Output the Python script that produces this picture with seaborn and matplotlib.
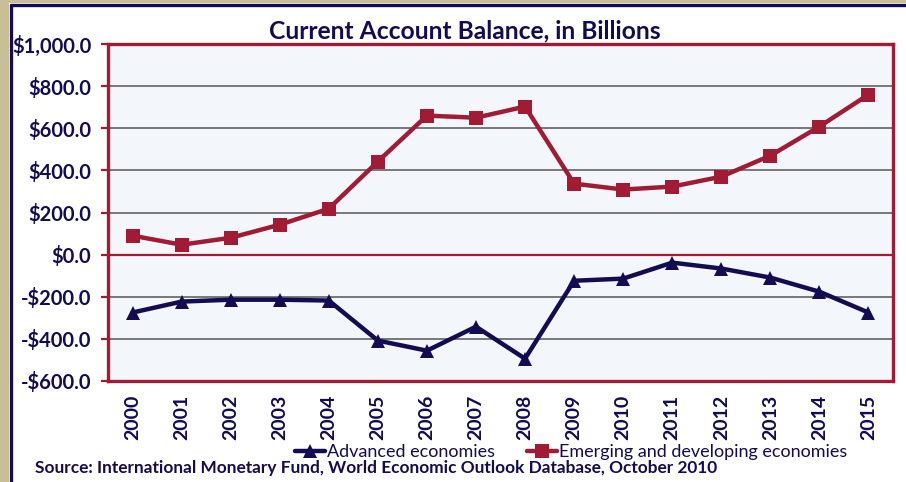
import matplotlib
matplotlib.use("Agg")
import matplotlib.pyplot as plt
from matplotlib.patches import Rectangle
from matplotlib.lines import Line2D
import seaborn as sns
import pandas as pd

years = list(range(2000, 2016))
advanced = [-275, -223, -214, -214, -218, -408, -456, -342, -494,
            -124, -114, -38, -66, -109, -176, -275]
emerging = [90, 47, 80, 142, 218, 442, 660, 650, 703,
            337, 309, 323, 370, 470, 608, 760]
y_ticks = [-600, -400, -200, 0, 200, 400, 600, 800, 1000]
y_tick_labels = ["-$600.0", "-$400.0", "-$200.0", "$0.0", "$200.0",
                 "$400.0", "$600.0", "$800.0", "$1,000.0"]
series_names = ["Advanced economies", "Emerging and developing economies"]

NAVY = "#120c52"
RED = "#a11b35"
TAN = "#c8bf96"

sns.set_theme(style="white")
plt.rcParams["font.family"] = ["Lato", "DejaVu Sans"]

df = pd.DataFrame({
    "year": years * 2,
    "value": advanced + emerging,
    "series": [series_names[0]] * len(years) + [series_names[1]] * len(years),
})

W, H = 906, 482
fig = plt.figure(figsize=(W / 100, H / 100), dpi=100)
fig.patch.set_facecolor("white")

# slide background strip and chart frame
fig.patches.append(Rectangle((0, 0), 9 / W, 1, transform=fig.transFigure,
                             facecolor=TAN, edgecolor="none", zorder=0))
fig.patches.append(Rectangle((0, 1 - 3 / H), 1, 3 / H, transform=fig.transFigure,
                             facecolor=TAN, edgecolor="none", zorder=0))
fig.add_artist(Line2D([10.5 / W, 10.5 / W], [0, 1 - 4.5 / H], transform=fig.transFigure,
                      color=NAVY, lw=2.4, zorder=1))
fig.add_artist(Line2D([10.5 / W, 1], [1 - 4.5 / H, 1 - 4.5 / H], transform=fig.transFigure,
                      color=NAVY, lw=2.4, zorder=1))

left, right, top, bottom = 108, 893, 44, 381
ax = fig.add_axes([left / W, 1 - bottom / H, (right - left) / W, (bottom - top) / H])
ax.set_facecolor("#f3f7fb")

sns.lineplot(data=df, x="year", y="value", hue="series", style="series",
             palette={series_names[0]: NAVY, series_names[1]: RED},
             markers={series_names[0]: "^", series_names[1]: "s"},
             dashes=False, linewidth=3.2, markersize=10, markeredgewidth=0,
             ax=ax, legend=False, zorder=5)

ax.set_xlim(1999.5, 2015.5)
ax.set_ylim(-600, 1000)
ax.set_yticks(y_ticks)
ax.set_yticklabels(y_tick_labels)
ax.set_xticks(years)
ax.set_xticklabels([str(y) for y in years], rotation=90)
for t in y_ticks:
    if t == 0:
        ax.axhline(t, color=RED, lw=1.6, zorder=2)
    elif -600 < t < 1000:
        ax.axhline(t, color="#555555", lw=1.1, zorder=2)

ax.tick_params(axis="y", length=5, width=1.6, color=RED, labelsize=14.5,
               labelcolor=NAVY, pad=7, left=True)
ax.tick_params(axis="x", length=0, labelsize=14, labelcolor=NAVY, pad=10)
for lab in ax.get_xticklabels() + ax.get_yticklabels():
    lab.set_fontweight("bold")
for sp in ax.spines.values():
    sp.set_color(RED)
    sp.set_linewidth(2.4)
    sp.set_visible(True)
ax.set_xlabel("")
ax.set_ylabel("")

fig.text(465 / W, 1 - 31 / H, "Current Account Balance, in Billions", ha="center",
         va="center", fontsize=17.7, fontweight="bold", color=NAVY)

handles = [
    Line2D([], [], color=NAVY, marker="^", lw=3.2, markersize=10, markeredgewidth=0),
    Line2D([], [], color=RED, marker="s", lw=3.2, markersize=10, markeredgewidth=0),
]
leg = fig.legend(handles, series_names, loc="center", bbox_to_anchor=(571 / W, 1 - 452 / H),
                 ncol=2, frameon=False, fontsize=13, handlelength=1.65, handletextpad=0.1,
                 columnspacing=1.8, borderpad=0)
for t in leg.get_texts():
    t.set_color(NAVY)

fig.text(35 / W, 1 - 468 / H,
         "Source: International Monetary Fund, World Economic Outlook Database, October 2010",
         ha="left", va="center", fontsize=12.4, fontweight="bold", color=NAVY)

fig.savefig("out.png", dpi=100)
